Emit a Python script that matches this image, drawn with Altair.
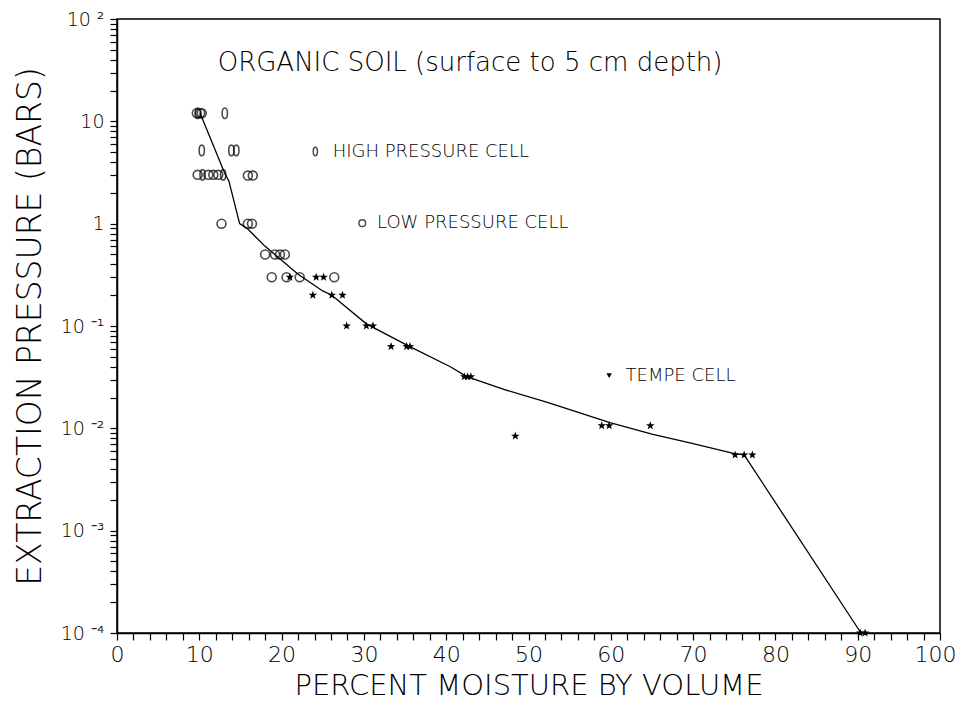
import altair as alt
import pandas as pd

# ---- data ----
hp_x = [9.8, 13.1, 10.3, 13.9, 14.5, 10.4, 12.9]
hp_y = [12.0, 12.0, 5.2, 5.2, 5.2, 3.0, 3.0]

lp_x = [9.7, 10.1, 10.3, 9.8, 11.1, 11.7, 12.3, 15.9, 16.5, 12.7, 15.9, 16.4,
        18.0, 19.2, 19.8, 20.4, 18.8, 20.6, 22.2, 26.4]
lp_y = [12.0, 12.0, 12.0, 3.0, 3.0, 3.0, 3.0, 2.95, 2.95, 1.0, 1.0, 1.0,
        0.5, 0.5, 0.5, 0.5, 0.3, 0.3, 0.3, 0.3]

tempe_x = [21.0, 24.2, 25.1, 23.8, 26.1, 27.4, 27.9, 30.3, 31.1, 33.3, 35.2, 35.6,
           42.2, 42.6, 43.0, 48.4, 58.9, 59.8, 64.8, 75.1, 76.2, 77.2, 90.3, 90.9]
tempe_y = [0.3, 0.3, 0.3, 0.2, 0.2, 0.2, 0.1, 0.1, 0.1, 0.063, 0.063, 0.063,
           0.032, 0.032, 0.032, 0.0084, 0.0106, 0.0106, 0.0106, 0.0055, 0.0055, 0.0055,
           0.0001, 0.0001]

curve_x = [10.1, 13.1, 13.6, 14.9, 15.8, 18.0, 20.0, 22.0, 25.0, 26.1, 30.3, 35.4,
           40.5, 42.5, 47.0, 52.2, 59.9, 65.0, 70.0, 74.9, 76.2, 90.4]
curve_y = [12.0, 3.1, 2.6, 1.0, 0.9, 0.6, 0.44, 0.32, 0.22, 0.2, 0.105, 0.064,
           0.040, 0.032, 0.024, 0.018, 0.0114, 0.0088, 0.0071, 0.0057, 0.0055, 0.0001]

x_tick_values = list(range(0, 101, 2))
y_tick_values = [100, 10, 1, 0.1, 0.01, 0.001, 0.0001]
y_tick_labels = ["10 ²", "10", "1", "10 ⁻¹", "10 ⁻²", "10 ⁻³", "10 ⁻⁴"]
y_minor_values = [m * 10.0 ** k for k in range(-4, 2) for m in range(1, 10)] + [100]

title_text = ["ORGANIC SOIL (surface to 5 cm depth)"]
title_pos_x = [42.9]
title_pos_y = [37.3]

legend_labels = ["HIGH PRESSURE CELL", "LOW PRESSURE CELL", "TEMPE CELL"]
legend_sym_x = [24.1, 29.8, 59.8]
legend_sym_y = [5.07, 1.01, 0.0327]
legend_text_x = [26.2, 31.6, 61.8]

FONT = "DejaVu Sans"
ELLIPSE = ("M0,-1 C0.276,-1 0.5,-0.552 0.5,0 C0.5,0.552 0.276,1 0,1 "
           "C-0.276,1 -0.5,0.552 -0.5,0 C-0.5,-0.552 -0.276,-1 0,-1 Z")
STAR = ("M0,-1 L0.235,-0.324 L0.951,-0.309 L0.380,0.124 L0.588,0.809 L0,0.4 "
        "L-0.588,0.809 L-0.380,0.124 L-0.951,-0.309 L-0.235,-0.324 Z")

ylabel_expr = "".join(
    f"abs(datum.value - {v!r}) < {v * 1e-6!r} ? '{lab}' : "
    for v, lab in zip(y_tick_values, y_tick_labels)
) + "''"

xscale = alt.Scale(domain=[0, 100], nice=False, zero=False)
yscale = alt.Scale(type="log", domain=[1e-4, 100], nice=False)

xaxis = alt.Axis(
    values=x_tick_values,
    labelExpr="datum.value % 10 == 0 ? datum.value : ''",
    title="PERCENT MOISTURE BY VOLUME",
    titleFontSize=29, titleFont=FONT, titleFontWeight=200, titlePadding=6,
    labelFontSize=22, labelFont=FONT, labelFontWeight=200, labelPadding=4,
    labelOffset={"condition": {"test": "datum.value == 100", "value": -5}, "value": 0},
    tickSize=7, grid=False, labelFlush=False, labelOverlap=False,
)
yaxis = alt.Axis(
    values=y_minor_values,
    labelExpr=ylabel_expr,
    title="EXTRACTION PRESSURE (BARS)",
    titleFontSize=33, titleFont=FONT, titleFontWeight=200, titlePadding=13,
    labelFontSize=19, labelFont=FONT, labelFontWeight=200, labelPadding=6,
    tickSize=7, grid=False, labelFlush=False, labelOverlap=False,
)


def XE(field="x"):
    return alt.X(f"{field}:Q", scale=xscale, axis=xaxis)


def YE():
    return alt.Y("y:Q", scale=yscale, axis=yaxis)


curve_df = pd.DataFrame({"x": curve_x, "y": curve_y})
hp_df = pd.DataFrame({"x": hp_x, "y": hp_y})
lp_df = pd.DataFrame({"x": lp_x, "y": lp_y})
tp_df = pd.DataFrame({"x": tempe_x, "y": tempe_y})
title_df = pd.DataFrame({"x": title_pos_x, "y": title_pos_y, "t": title_text})
leg_df = pd.DataFrame({"x": legend_sym_x, "y": legend_sym_y, "tx": legend_text_x,
                       "t": legend_labels})

curve = alt.Chart(curve_df).mark_line(color="black", strokeWidth=1.3).encode(x=XE(), y=YE())

hp = alt.Chart(hp_df).mark_point(shape=ELLIPSE, size=110, filled=False,
                                 color="black", strokeWidth=1.6).encode(x=XE(), y=YE())
lp = alt.Chart(lp_df).mark_point(shape="circle", size=80, filled=False,
                                 color="black", strokeWidth=1.6).encode(x=XE(), y=YE())
tp = alt.Chart(tp_df).mark_point(shape=STAR, size=80, filled=True,
                                 color="black", opacity=1).encode(x=XE(), y=YE())

title_layer = alt.Chart(title_df).mark_text(
    font=FONT, fontSize=26, fontWeight=200, color="black", align="center",
    baseline="middle").encode(x=XE(), y=YE(), text="t:N")

leg_hp = alt.Chart(leg_df.iloc[[0]]).mark_point(
    shape=ELLIPSE, size=70, filled=False, color="black", strokeWidth=1.5
).encode(x=XE(), y=YE())
leg_lp = alt.Chart(leg_df.iloc[[1]]).mark_point(
    shape="circle", size=45, filled=False, color="black", strokeWidth=1.5
).encode(x=XE(), y=YE())
leg_tp = alt.Chart(leg_df.iloc[[2]]).mark_point(
    shape="triangle-down", size=30, filled=True, color="black", opacity=1
).encode(x=XE(), y=YE())
leg_text = alt.Chart(leg_df).mark_text(
    font=FONT, fontSize=18, fontWeight=300, color="black", align="left",
    baseline="middle").encode(x=XE("tx"), y=YE(), text="t:N")

chart = alt.layer(curve, hp, lp, tp, title_layer, leg_hp, leg_lp, leg_tp, leg_text).properties(
    width=823, height=614,
    autosize=alt.AutoSizeParams(type="none"),
    padding={"left": 109, "top": 11, "right": 18, "bottom": 68},
).configure_view(
    stroke="black", strokeWidth=1.5
).configure_axis(
    domainColor="black", domainWidth=1.5, tickColor="black", tickWidth=1.2,
    labelColor="black", titleColor="black",
)

chart.save("out.html", embed_options={"renderer": "svg", "actions": False})
